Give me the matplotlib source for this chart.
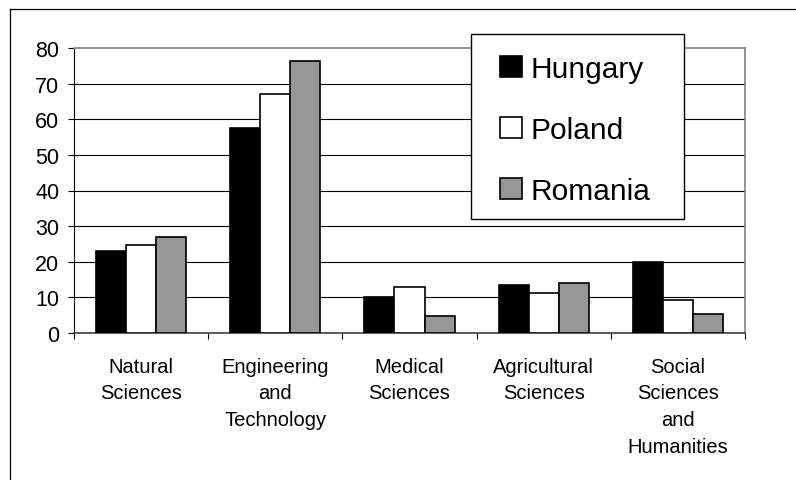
import numpy as np
import matplotlib
matplotlib.use("Agg")
import matplotlib.pyplot as plt
from matplotlib.lines import Line2D
from matplotlib.patches import Rectangle

plt.rcParams['font.family'] = ['Liberation Sans', 'DejaVu Sans']

# data
categories = ["Natural\nSciences", "Engineering\nand\nTechnology", "Medical\nSciences",
              "Agricultural\nSciences", "Social\nSciences\nand\nHumanities"]
hungary = [23.1, 57.5, 10.0, 13.5, 19.9]
poland = [24.6, 67.2, 12.8, 11.1, 9.2]
romania = [27.0, 76.3, 4.7, 14.1, 5.2]
countries = ["Hungary", "Poland", "Romania"]
colors = ["#000000", "#ffffff", "#969696"]

W, H = 796, 481
fig = plt.figure(figsize=(W / 100, H / 100), dpi=100)
ax = fig.add_axes([74 / W, 1 - 334 / H, (745 - 74) / W, (334 - 49) / H])

x = np.arange(len(categories))
w = 0.224
series = [hungary, poland, romania]
for i, (vals, name, col) in enumerate(zip(series, countries, colors)):
    ax.bar(x + (i - 1) * w, vals, width=w, color=col, edgecolor="black",
           linewidth=1.2, label=name, zorder=3)

ax.set_xlim(-0.5, len(categories) - 0.5)
ax.set_ylim(0, 80)
ax.set_yticks(range(0, 81, 10))
ax.tick_params(axis="y", labelsize=15.5, length=4.5, width=0.8, pad=6)
for yv in range(10, 80, 10):
    ax.axhline(yv, color="black", linewidth=0.8, zorder=1)

# category boundaries as ticks, labels at centres
ax.set_xticks(np.arange(-0.5, len(categories), 1.0))
ax.set_xticklabels([])
ax.tick_params(axis="x", which="major", length=4.5, width=0.8)
ax.set_xticks(x, minor=True)
ax.set_xticklabels(categories, minor=True, fontsize=14.5, linespacing=1.52)
ax.tick_params(axis="x", which="minor", length=0, pad=17)

for s in ["top", "right"]:
    ax.spines[s].set_color("#808080")
    ax.spines[s].set_linewidth(1.2)
ax.spines["left"].set_color("black")
ax.spines["left"].set_linewidth(0.8)
ax.spines["bottom"].set_color("#404040")
ax.spines["bottom"].set_linewidth(1.2)

# legend box drawn separately so its padding matches
box = Rectangle((471 / W, 1 - 220 / H), (684 - 471) / W, (220 - 35) / H,
                transform=fig.transFigure, facecolor="white",
                edgecolor="black", linewidth=1.0, zorder=4, clip_on=False)
ax.add_patch(box)
leg = ax.legend(loc="upper left", bbox_to_anchor=(500 / W, 1 - 56 / H),
                bbox_transform=fig.transFigure, fontsize=21.5, frameon=False,
                handlelength=0.72, handleheight=0.72, handletextpad=0.3,
                labelspacing=1.1, borderpad=0, borderaxespad=0)
leg.set_zorder(5)

# outer chart frame
fig.add_artist(Line2D([10 / W, 10 / W], [0, 1 - 10 / H], transform=fig.transFigure,
                      color="black", linewidth=0.9))
fig.add_artist(Line2D([10 / W, 1], [1 - 10 / H, 1 - 10 / H], transform=fig.transFigure,
                      color="black", linewidth=0.9))

fig.savefig("out.png", dpi=100)
